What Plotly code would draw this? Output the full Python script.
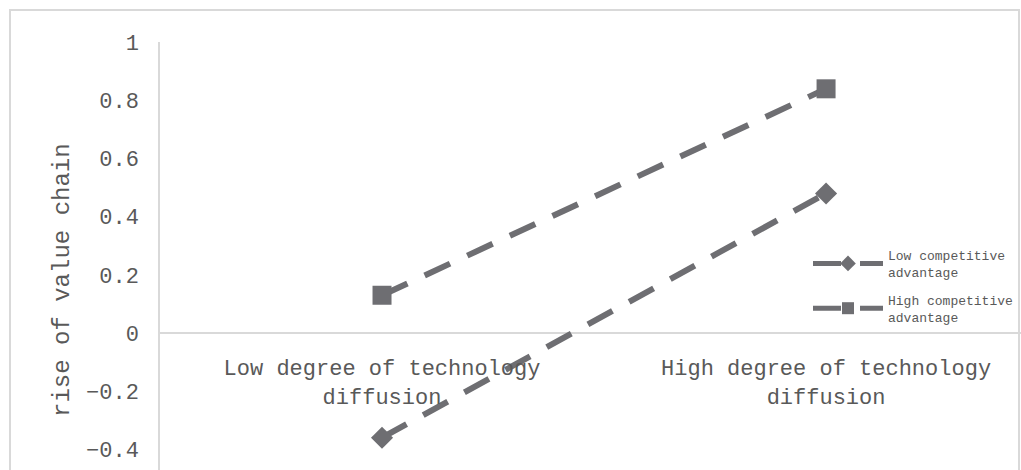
import plotly.graph_objects as go

# Categories on the x axis and the two series plotted against them
categories = ["Low degree of technology<br>diffusion", "High degree of technology<br>diffusion"]
series_names = ["Low competitive<br>advantage", "High competitive<br>advantage"]
low_advantage = [-0.36, 0.48]
high_advantage = [0.13, 0.84]
y_title = "rise of value chain"

y_min, y_max = -0.471, 1.001
font_family = "Liberation Mono"
text_color = "#595959"
line_color = "#6e6e72"
frame_color = "#d9d9d9"

fig = go.Figure()
fig.add_trace(go.Scatter(
    x=categories, y=low_advantage, name=series_names[0], mode="lines+markers",
    legendgroup="low",
    line=dict(color=line_color, width=6, dash="28px,19px"),
    marker=dict(symbol="diamond", size=17, color=line_color),
))
fig.add_trace(go.Scatter(
    x=categories, y=high_advantage, name=series_names[1], mode="lines+markers",
    legendgroup="high",
    line=dict(color=line_color, width=6, dash="28px,19px"),
    marker=dict(symbol="square", size=19, color=line_color),
))

# Outer chart frame
W, H = 1021, 470
ml, mt = 160, 42
pw, ph = W - ml, H - mt
fig.add_shape(
    type="rect", xref="paper", yref="paper", layer="below",
    x0=(10 - ml) / pw, x1=(1019 - ml) / pw, y0=-0.2, y1=(H - 10) / ph,
    line=dict(color=frame_color, width=2), fillcolor="rgba(0,0,0,0)",
)

# Vertical axis title
fig.add_annotation(
    text=y_title, xref="paper", yref="paper",
    x=(62 - ml) / pw, y=(H - 280) / ph, xanchor="center", yanchor="middle",
    textangle=-90, showarrow=False,
    font=dict(size=24, family=font_family, color=text_color),
)

fig.update_layout(
    width=W, height=H,
    margin=dict(l=ml, r=0, t=mt, b=0, autoexpand=False),
    paper_bgcolor="white", plot_bgcolor="white",
    font=dict(family=font_family, color=text_color, size=22),
    showlegend=True,
    legend=dict(
        x=(808 - ml) / pw, y=(H - 240) / ph, xanchor="left", yanchor="top",
        bgcolor="rgba(0,0,0,0)", font=dict(size=13, family=font_family, color=text_color),
        itemsizing="constant", itemwidth=70, tracegroupgap=8,
    ),
    xaxis=dict(
        type="category", range=[-0.5, 1.439],
        showgrid=False, zeroline=False, showline=False,
        anchor="free", position=-y_min / (y_max - y_min),
        ticks="outside", ticklen=0, ticklabelstandoff=15,
        tickfont=dict(size=22, family=font_family, color=text_color),
    ),
    yaxis=dict(
        range=[y_min, y_max], tick0=0, dtick=0.2,
        showgrid=False, showline=True, linecolor=frame_color, linewidth=1.5,
        zeroline=True, zerolinecolor=frame_color, zerolinewidth=2,
        ticks="outside", ticklen=0, ticklabelstandoff=15,
        tickfont=dict(size=22, family=font_family, color=text_color),
    ),
)

fig.write_html("out.html")
